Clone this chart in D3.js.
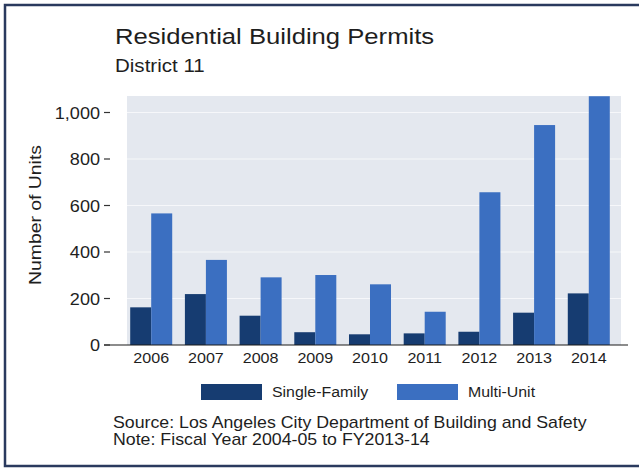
<!DOCTYPE html>
<html>
<head>
<meta charset="utf-8">
<script src="https://cdn.jsdelivr.net/npm/d3@7"></script>
<style>
  html, body { margin: 0; padding: 0; background: #ffffff; }
  svg { display: block; }
  text { font-family: "Liberation Sans", Arial, Helvetica, sans-serif; fill: #1e1e1e; }
</style>
</head>
<body>
<svg id="chart" width="639" height="468"></svg>
<script>
// ---- data ----
const years = ["2006","2007","2008","2009","2010","2011","2012","2013","2014"];
const singleFamily = [162, 219, 126, 55, 46, 50, 57, 139, 222];
const multiUnit = [566, 366, 291, 301, 261, 143, 657, 946, 1070];
const seriesNames = ["Single-Family", "Multi-Unit"];
const yTicks = [0, 200, 400, 600, 800, 1000];
const titleText = "Residential Building Permits";
const subtitleText = "District 11";
const yAxisTitle = "Number of Units";
const sourceText = "Source: Los Angeles City Department of Building and Safety";
const noteText = "Note: Fiscal Year 2004-05 to FY2013-14";

const colors = { "Single-Family": "#163c71", "Multi-Unit": "#3b6fc1" };

const svg = d3.select("#chart");
const W = 639, H = 468;

// frame
svg.append("rect")
  .attr("x", 5).attr("y", 5).attr("width", 645).attr("height", 461)
  .attr("fill", "none").attr("stroke", "#2a3a5e").attr("stroke-width", 2.5);

// helper for horizontally-stretched text
function stext(g, str, x, y, size, sx, anchor, weight) {
  return g.append("text")
    .attr("transform", `translate(${x},${y}) scale(${sx},1)`)
    .attr("font-size", size)
    .attr("text-anchor", anchor || "start")
    .attr("font-weight", weight || "normal")
    .text(str);
}

// titles
stext(svg, titleText, 115, 44, 22.5, 1.14, "start");
stext(svg, subtitleText, 115, 72, 18, 1.14, "start");

// scales
const plotTop = 96, plotBottom = 345, plotLeft = 127, plotRight = 621;
const y = d3.scaleLinear().domain([0, 1000]).range([345, 112.5]);
const x0 = d3.scaleBand().domain(years).range([122, 618]).paddingInner(0.232).paddingOuter(0.15);
const x1 = d3.scaleBand().domain(seriesNames).range([0, x0.bandwidth()]).padding(0);

// plot background
svg.append("rect")
  .attr("x", plotLeft).attr("y", plotTop)
  .attr("width", plotRight - plotLeft).attr("height", plotBottom - plotTop)
  .attr("fill", "#e4e8ef");

// gridlines
svg.append("g").selectAll("line")
  .data(yTicks.filter(d => d > 0))
  .join("line")
  .attr("x1", plotLeft).attr("x2", plotRight)
  .attr("y1", d => y(d)).attr("y2", d => y(d))
  .attr("stroke", "#f6f7fa").attr("stroke-width", 1.2);

// bars
const rows = years.map((yr, i) => ({ year: yr, values: [
  { key: "Single-Family", value: singleFamily[i] },
  { key: "Multi-Unit", value: multiUnit[i] }
]}));

const groups = svg.append("g").selectAll("g")
  .data(rows).join("g")
  .attr("transform", d => `translate(${x0(d.year)},0)`);

groups.selectAll("rect")
  .data(d => d.values).join("rect")
  .attr("x", d => x1(d.key))
  .attr("y", d => y(d.value))
  .attr("width", x1.bandwidth())
  .attr("height", d => y(0) - y(d.value))
  .attr("fill", d => colors[d.key]);

// x axis line
svg.append("line")
  .attr("x1", 104).attr("x2", 628)
  .attr("y1", y(0)).attr("y2", y(0))
  .attr("stroke", "#1a1a1a").attr("stroke-width", 1.2);

// x labels
years.forEach(yr => {
  stext(svg, yr, x0(yr) + x0.bandwidth() / 2, 363, 14, 1.15, "middle");
});

// y ticks and labels
yTicks.forEach(t => {
  svg.append("line")
    .attr("x1", 104).attr("x2", 110)
    .attr("y1", y(t)).attr("y2", y(t))
    .attr("stroke", "#333").attr("stroke-width", 1.2);
  stext(svg, d3.format(",")(t), 100, y(t) + 6, 16, 1.13, "end");
});

// y axis title
svg.append("text")
  .attr("transform", `translate(41,215) rotate(-90) scale(1.14,1)`)
  .attr("font-size", 17)
  .attr("text-anchor", "middle")
  .text(yAxisTitle);

// legend
const legendItems = [
  { key: "Single-Family", sx: 201, tx: 272 },
  { key: "Multi-Unit", sx: 397, tx: 468 }
];
legendItems.forEach(it => {
  svg.append("rect")
    .attr("x", it.sx).attr("y", 384).attr("width", 61).attr("height", 16)
    .attr("fill", colors[it.key]);
  stext(svg, it.key, it.tx, 397, 15, 1.06, "start");
});

// source / note
stext(svg, sourceText, 113, 428, 16, 1.11, "start");
stext(svg, noteText, 113, 445, 16, 1.11, "start");
</script>
</body>
</html>
